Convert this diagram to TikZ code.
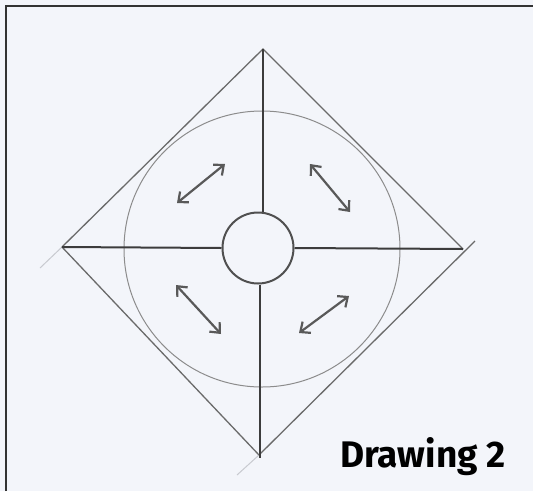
\documentclass[tikz,border=0pt]{standalone}
\usepackage{fontspec}
\setsansfont{Fira Sans}
\usetikzlibrary{arrows.meta}
\definecolor{paper}{HTML}{F3F5FA}
\definecolor{pencil}{HTML}{3C3C3C}
\definecolor{edgegray}{HTML}{6A6A6A}
\definecolor{ringgray}{HTML}{8C8C8C}
\definecolor{faint}{HTML}{C8CAD0}
\tikzset{
  frameline/.style={draw=black!80, line width=1.2pt},
  diamondedge/.style={draw=edgegray, line width=1.3pt},
  crossline/.style={draw=pencil, line width=2pt},
  ringstyle/.style={circle, draw=ringgray, line width=1pt, minimum size=276pt, inner sep=0pt},
  hubstyle/.style={circle, draw=pencil!90, line width=2pt, minimum size=71pt, inner sep=0pt},
  faintline/.style={draw=faint, line width=1pt},
  dblarrow/.style={draw=pencil!85, line width=2.2pt, {Straight Barb[length=8pt,width=14pt]}-{Straight Barb[length=8pt,width=14pt]}},
  caption/.style={font=\sffamily\bfseries\fontsize{37}{37}\selectfont, text=black, inner sep=0pt}
}
\begin{document}
\begin{tikzpicture}[x=1pt,y=-1pt]
\fill[paper] (0,0) rectangle (533,491);
\useasboundingbox (0,0) rectangle (533,491);
\coordinate (f1) at (6,491);
\coordinate (f2) at (6,6);
\coordinate (f3) at (533,6);
\draw[frameline] (f1) -- (f2) -- (f3);
% diamond vertices
\coordinate (T) at (263,49);
\coordinate (L) at (62,247);
\coordinate (R) at (463,249);
\coordinate (B) at (259,455);
\coordinate (Rx) at (475,241);
\coordinate (Lx) at (40,268);
\coordinate (Bx) at (237,475);
\coordinate (Bv) at (260,458);
% faint construction extensions
\draw[faintline] (L) -- (Lx);
\draw[faintline] (B) -- (Bx);
% circles
\node[ringstyle] (ring) at (262,249) {};
\node[hubstyle] (hub) at (258,248) {};
% diamond
\draw[diamondedge] (L) -- (T) -- (R);
\draw[diamondedge] (L) -- (B);
\draw[diamondedge] (Rx) -- (B);
% cross lines
\draw[crossline] (T) -- (T |- hub.north);
\draw[crossline] (hub.south -| Bv) -- (Bv);
\draw[crossline] (L) -- (hub.west);
\draw[crossline] (hub.east) -- (R);
% arrows
\coordinate (a1) at (177,203); \coordinate (a2) at (225,164);
\coordinate (b1) at (310,164); \coordinate (b2) at (350,212);
\coordinate (c1) at (176,285); \coordinate (c2) at (221,334);
\coordinate (d1) at (349,296); \coordinate (d2) at (299,333);
\draw[dblarrow] (a1) -- (a2);
\draw[dblarrow] (b1) -- (b2);
\draw[dblarrow] (c1) -- (c2);
\draw[dblarrow] (d1) -- (d2);
% caption
\node[caption, anchor=base west] (cap) at (340,467) {Drawing 2};
\end{tikzpicture}
\end{document}
